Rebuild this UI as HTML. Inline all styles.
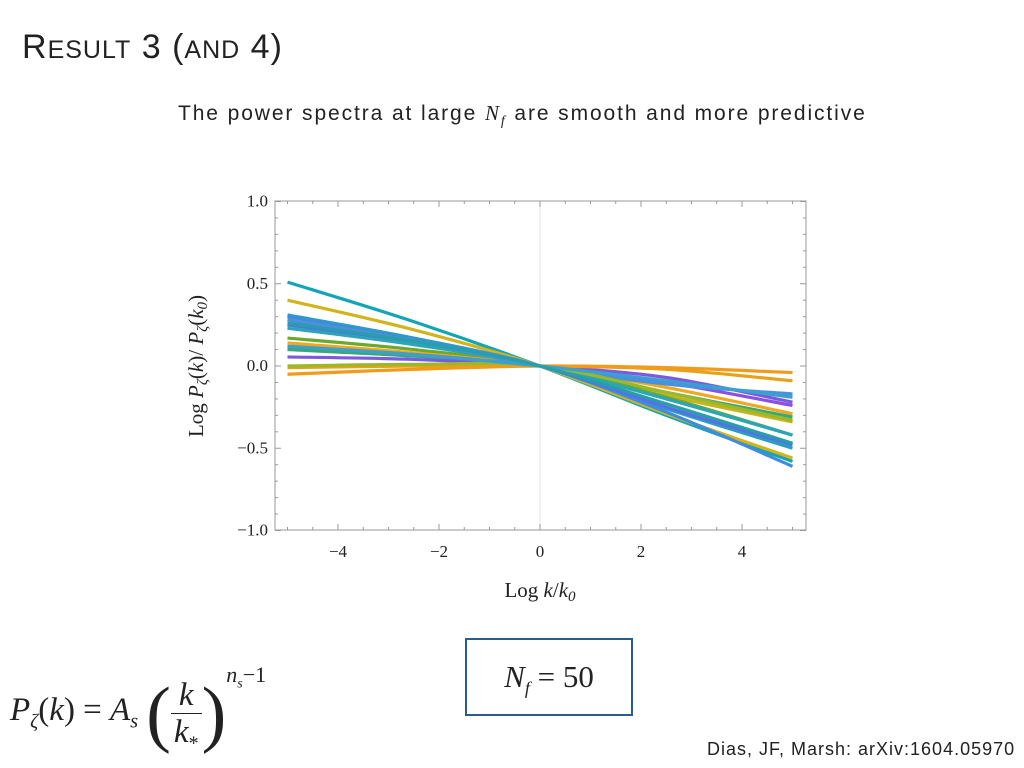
<!DOCTYPE html>
<html><head><meta charset="utf-8">
<style>
body{margin:0;width:1024px;height:768px;background:#fff;position:relative;overflow:hidden;font-family:"Liberation Sans",sans-serif}
.abs{position:absolute}
</style></head><body>
<div class="abs" style="left:22px;top:28px;font-size:34px;color:#222;letter-spacing:1px">R<span style="font-size:25px">ESULT</span> 3 (<span style="font-size:25px">AND</span> 4)</div>
<div class="abs" style="left:178px;top:101px;font-size:21px;letter-spacing:1.9px;color:#222;white-space:nowrap">The power spectra at large <i style="font-family:'Liberation Serif',serif">N<sub style="font-size:14px">f</sub></i> are smooth and more predictive</div>
<svg class="abs" style="left:0;top:0" width="1024" height="640">
<g id="frame"></g><g id="lines"></g>
</svg>
<div class="abs" style="left:465px;top:638px;width:168px;height:78px;border:2px solid #2a5d8a;box-sizing:border-box;font-family:'Liberation Serif',serif;font-size:31px;text-align:center;line-height:74px;color:#222"><i>N<sub style="font-size:18px">f</sub></i> = 50</div>
<div class="abs" style="left:10px;top:672px;font-family:'Liberation Serif',serif;font-size:33px;color:#222;white-space:nowrap">
<i>P</i><sub style="font-size:20px"><i>ζ</i></sub>(<i>k</i>) = <i>A</i><sub style="font-size:20px"><i>s</i></sub>
<span style="font-size:74px;vertical-align:-18px;font-weight:100">(</span><span style="display:inline-block;vertical-align:-22px;text-align:center;line-height:36px"><i>k</i><br><span style="border-top:1px solid #222;display:block;padding:0 3px"><i>k</i><sub style="font-size:20px">*</sub></span></span><span style="font-size:74px;vertical-align:-18px">)</span><sup style="font-size:22px;position:relative;top:-26px"><i>n<sub style="font-size:14px">s</sub></i>−1</sup></div>
<div class="abs" style="left:707px;top:739px;font-size:18px;letter-spacing:1px;color:#222;white-space:nowrap">Dias, JF, Marsh: arXiv:1604.05970</div>
<script>
const xs=[-5,-2.5,0,2.5,5];
const xTicks=[-4,-2,0,2,4];
const yTicks=[1.0,0.5,0.0,-0.5,-1.0];
const yTickLabels=["1.0","0.5","0.0","−0.5","−1.0"];
const colors=["#14a5b5","#d2b41c","#27a0c0","#3f8be0","#5a6ee8","#c9b41e","#6aa82e","#f0a81c","#8a50e0","#38a87a","#7b5ae0","#2aa6b8","#e8a21a","#f29a1a","#4a90e0","#9ab828","#3ba0d0","#26a0a8"];
const s0=[0.51,0.27,0,-0.30,-0.58];
const s1=[0.40,0.22,0,-0.29,-0.56];
const s2=[0.31,0.17,0,-0.26,-0.50];
const s3=[0.30,0.16,0,-0.28,-0.61];
const s4=[0.25,0.14,0,-0.25,-0.48];
const s5=[0.28,0.15,0,-0.18,-0.34];
const s6=[0.17,0.10,0,-0.19,-0.42];
const s7=[0.14,0.08,0,-0.13,-0.29];
const s8=[0.115,0.07,0,-0.10,-0.24];
const s9=[0.10,0.06,0,-0.16,-0.31];
const s10=[0.055,0.04,0,-0.07,-0.22];
const s11=[0.23,0.13,0,-0.20,-0.42];
const s12=[-0.01,0.0,0,-0.02,-0.09];
const s13=[-0.05,-0.02,0,-0.01,-0.04];
const s14=[0.28,0.15,0,-0.11,-0.17];
const s15=[0.0,0.01,0,-0.16,-0.33];
const s16=[0.12,0.07,0,-0.09,-0.19];
const s17=[0.26,0.15,0,-0.23,-0.47];
const series=[s0,s1,s2,s3,s4,s5,s6,s7,s8,s9,s10,s11,s12,s13,s14,s15,s16,s17];
const X=v=>540+v*50.5, Y=v=>366-v*164.5;
const NS="http://www.w3.org/2000/svg";
const fr=document.getElementById('frame'), ln=document.getElementById('lines');
function mk(t,a,p){const e=document.createElementNS(NS,t);for(const k in a)e.setAttribute(k,a[k]);p.appendChild(e);return e;}
mk('rect',{x:275,y:201,width:531,height:329,fill:'none',stroke:'#999','stroke-width':1},fr);
mk('line',{x1:X(0),x2:X(0),y1:201,y2:530,stroke:'#e4e4e4'},fr);
for(let v=-5;v<=5;v+=0.5){const big=Number.isInteger(v)&&v%2===0;
 mk('line',{x1:X(v),x2:X(v),y1:530,y2:530-(big?6:3),stroke:'#999'},fr);
 mk('line',{x1:X(v),x2:X(v),y1:201,y2:201+(big?6:3),stroke:'#999'},fr);}
for(let v=-1;v<=1.001;v+=0.1){const big=Math.abs(v*2-Math.round(v*2))<0.01;
 mk('line',{x1:275,x2:275+(big?6:3),y1:Y(v),y2:Y(v),stroke:'#999'},fr);
 mk('line',{x1:806,x2:806-(big?6:3),y1:Y(v),y2:Y(v),stroke:'#999'},fr);}
xTicks.forEach(t=>{const e=mk('text',{x:X(t),y:557,'text-anchor':'middle','font-family':'Liberation Serif, serif','font-size':17,fill:'#222'},fr);e.textContent=(t<0?'−':'')+Math.abs(t);

});
yTicks.forEach((t,i)=>{const e=mk('text',{x:268,y:Y(t)+5,'text-anchor':'end','font-family':'Liberation Serif, serif','font-size':17,fill:'#222'},fr);e.textContent=yTickLabels[i];

});
const xl=mk('text',{x:540,y:597,'text-anchor':'middle','font-family':'Liberation Serif, serif','font-size':21,fill:'#222'},fr);
xl.innerHTML='Log <tspan font-style="italic">k</tspan>/<tspan font-style="italic">k</tspan><tspan font-size="15" dy="4" font-style="italic">0</tspan>';


const yl=mk('text',{x:0,y:0,transform:'translate(203,366) rotate(-90)','text-anchor':'middle','font-family':'Liberation Serif, serif','font-size':21,fill:'#222'},fr);
yl.innerHTML='Log <tspan font-style="italic">P</tspan><tspan font-size="15" dy="4" font-style="italic">ζ</tspan><tspan dy="-4">(</tspan><tspan font-style="italic">k</tspan>)/ <tspan font-style="italic">P</tspan><tspan font-size="15" dy="4" font-style="italic">ζ</tspan><tspan dy="-4">(</tspan><tspan font-style="italic">k</tspan><tspan font-size="15" dy="4" font-style="italic">0</tspan><tspan dy="-4">)</tspan>';


series.forEach((s,i)=>{
 const P=xs.map((x,j)=>[X(x),Y(s[j])]);
 let d='M'+P[0][0]+','+P[0][1];
 for(let j=0;j<P.length-1;j++){const p0=P[Math.max(j-1,0)],p1=P[j],p2=P[j+1],p3=P[Math.min(j+2,P.length-1)];
  const c1=[p1[0]+(p2[0]-p0[0])/6,p1[1]+(p2[1]-p0[1])/6],c2=[p2[0]-(p3[0]-p1[0])/6,p2[1]-(p3[1]-p1[1])/6];
  d+=' C'+c1+' '+c2+' '+p2;}
 const p=mk('path',{d:d,fill:'none',stroke:colors[i],'stroke-width':3.2,'stroke-linejoin':'round'},ln);
 
 
});
</script>
</body></html>
